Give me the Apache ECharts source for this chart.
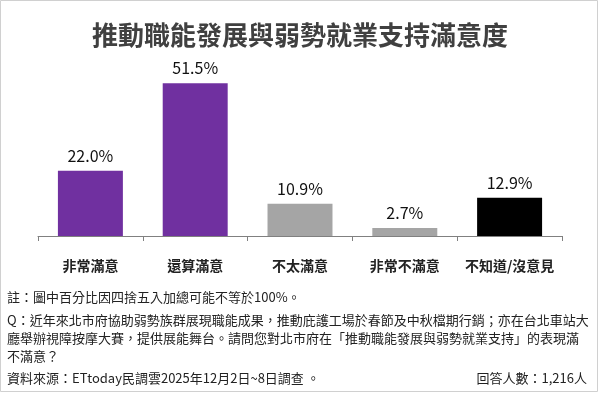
<!DOCTYPE html>
<html><head><meta charset="utf-8">
<script src="https://cdn.jsdelivr.net/npm/echarts@6/dist/echarts.min.js"></script>
<style>html,body{margin:0;padding:0;background:#fff}#c{width:600px;height:393px}</style>
</head><body><div id="c"></div>
<script>
const title = '推動職能發展與弱勢就業支持滿意度';
const categories = ['非常滿意', '還算滿意', '不太滿意', '非常不滿意', '不知道/沒意見'];
const values = [22.0, 51.5, 10.9, 2.7, 12.9];
const barColors = ['#7030A0', '#7030A0', '#A5A5A5', '#A5A5A5', '#000000'];
const noteLines = [
  '註：圖中百分比因四捨五入加總可能不等於100%。',
  'Q：近年來北市府協助弱勢族群展現職能成果，推動庇護工場於春節及中秋檔期行銷；亦在台北車站大',
  '廳舉辦視障按摩大賽，提供展能舞台。請問您對北市府在「推動職能發展與弱勢就業支持」的表現滿',
  '不滿意？'
];
const sourceText = '資料來源：ETtoday民調雲2025年12月2日~8日調查 。';
const sampleText = '回答人數：1,216人';

const font = '"Noto Sans CJK TC", "Noto Sans", sans-serif';
const chart = echarts.init(document.getElementById('c'));
const noteTops = [291, 314, 332, 350];
chart.setOption({
  animation: false,
  backgroundColor: '#fff',
  title: {
    text: title, left: 'center', top: 17,
    textStyle: { fontFamily: font, fontSize: 26, fontWeight: 'bold', color: '#404040' }
  },
  grid: { left: 38, right: 38, top: 58, bottom: 157 },
  xAxis: {
    type: 'category', data: categories,
    axisLine: { lineStyle: { color: '#808080', width: 1 } },
    axisTick: { show: true, length: 5, lineStyle: { color: '#808080' } },
    axisLabel: { interval: 0, margin: 23, fontFamily: font, fontSize: 14, fontWeight: 'bold', color: '#222' }
  },
  yAxis: { type: 'value', min: 0, max: 60, show: false, splitLine: { show: false } },
  series: [{
    type: 'bar', barWidth: '62%',
    data: values.map((v, i) => ({ value: v, itemStyle: { color: barColors[i] } })),
    label: {
      show: true, position: 'top', distance: 7,
      formatter: p => p.value.toFixed(1) + '%',
      fontFamily: font, fontSize: 16, color: '#111'
    }
  }],
  graphic: [
    { type: 'rect', shape: { x: 0.5, y: 0.5, width: 597, height: 391 },
      style: { fill: null, stroke: '#d0d0d0', lineWidth: 1 }, silent: true },
    ...noteLines.map((t, i) => ({
      type: 'text', left: 7, top: noteTops[i],
      style: { text: t, font: '13px ' + font, fill: '#222' }
    })),
    { type: 'text', left: 7, top: 372, style: { text: sourceText, font: '13px ' + font, fill: '#222' } },
    { type: 'text', right: 13, top: 372, style: { text: sampleText, font: '13px ' + font, fill: '#222' } }
  ]
});
</script></body></html>
